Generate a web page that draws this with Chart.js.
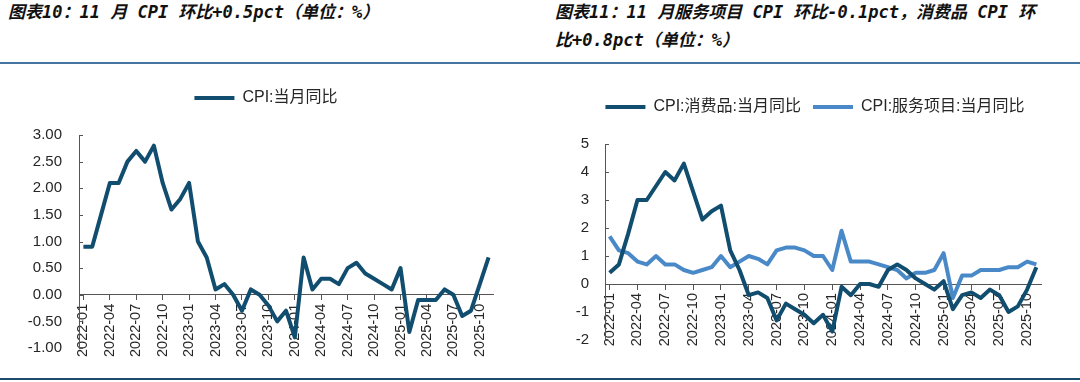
<!DOCTYPE html>
<html>
<head>
<meta charset="utf-8">
<script src="https://cdn.jsdelivr.net/npm/chart.js@4.4.1/dist/chart.umd.min.js"></script>
<style>
  html, body { margin:0; padding:0; background:#fff; }
  #wrap { position:relative; width:1080px; height:382px; overflow:hidden; background:#fff; }
  .ttl { position:absolute; font-family:"DejaVu Sans Mono","Noto Sans CJK SC",monospace; font-weight:bold; font-style:italic; font-size:17px; color:#111; line-height:28px; white-space:nowrap; }
  #t1 { left:8px; top:-2px; }
  #t2 { left:555px; top:-2px; }
  .rule1 { position:absolute; left:0; top:62px; width:1080px; height:2px; background:#4474a0; }
  .rule2 { position:absolute; left:0; top:378px; width:1080px; height:2px; background:#1c4a6c; }
  canvas { position:absolute; }
  #c1 { left:0; top:64px; }
  #c2 { left:550px; top:64px; }
</style>
</head>
<body>
<div id="wrap">
  <div class="ttl" id="t1">图表10：11 月 CPI 环比+0.5pct（单位：%）</div>
  <div class="ttl" id="t2">图表11：11 月服务项目 CPI 环比-0.1pct，消费品 CPI 环<br>比+0.8pct（单位：%）</div>
  <div class="rule1"></div>
  <canvas id="c1" width="532" height="312"></canvas>
  <canvas id="c2" width="530" height="312"></canvas>
  <div class="rule2"></div>
</div>
<script>
// ---- data ----
const months = ["2022-01","2022-02","2022-03","2022-04","2022-05","2022-06","2022-07","2022-08","2022-09","2022-10","2022-11","2022-12",
"2023-01","2023-02","2023-03","2023-04","2023-05","2023-06","2023-07","2023-08","2023-09","2023-10","2023-11","2023-12",
"2024-01","2024-02","2024-03","2024-04","2024-05","2024-06","2024-07","2024-08","2024-09","2024-10","2024-11","2024-12",
"2025-01","2025-02","2025-03","2025-04","2025-05","2025-06","2025-07","2025-08","2025-09","2025-10","2025-11"];

const cpiYoY = [0.9,0.9,1.5,2.1,2.1,2.5,2.7,2.5,2.8,2.1,1.6,1.8,
2.1,1.0,0.7,0.1,0.2,0.0,-0.3,0.1,0.0,-0.2,-0.5,-0.3,
-0.8,0.7,0.1,0.3,0.3,0.2,0.5,0.6,0.4,0.3,0.2,0.1,
0.5,-0.7,-0.1,-0.1,-0.1,0.1,0.0,-0.4,-0.3,0.2,0.7];

const goodsYoY = [0.4,0.7,1.8,3.0,3.0,3.5,4.0,3.7,4.3,3.3,2.3,2.6,
2.8,1.2,0.5,-0.4,-0.3,-0.5,-1.3,-0.7,-0.9,-1.1,-1.4,-1.1,
-1.7,-0.1,-0.4,0.0,0.0,-0.1,0.5,0.7,0.5,0.2,0.0,-0.2,
0.1,-0.9,-0.4,-0.3,-0.5,-0.2,-0.4,-1.0,-0.8,-0.2,0.6];

const servicesYoY = [1.7,1.2,1.1,0.8,0.7,1.0,0.7,0.7,0.5,0.4,0.5,0.6,
1.0,0.6,0.8,1.0,0.9,0.7,1.2,1.3,1.3,1.2,1.0,1.0,
0.5,1.9,0.8,0.8,0.8,0.7,0.6,0.5,0.2,0.4,0.4,0.5,
1.1,-0.5,0.3,0.3,0.5,0.5,0.5,0.6,0.6,0.8,0.7];

const leftSeriesName = "CPI:当月同比";
const goodsName = "CPI:消费品:当月同比";
const servicesName = "CPI:服务项目:当月同比";

// ---- styling ----
Chart.defaults.font.family = '"Liberation Sans","Noto Sans CJK SC",Arial,sans-serif';
Chart.defaults.color = '#262626';
const DARK = '#114d6e';
const LIGHT = '#4a89c8';
const AXIS = '#555555';

const innerTicks = {
  id: 'innerTicks',
  afterDraw(chart) {
    const s = chart.scales.y, ctx = chart.ctx;
    ctx.save();
    ctx.strokeStyle = AXIS; ctx.lineWidth = 1;
    s.ticks.forEach((t, i) => {
      const y = Math.round(s.getPixelForTick(i)) + 0.5;
      ctx.beginPath(); ctx.moveTo(s.right, y); ctx.lineTo(s.right + 4, y); ctx.stroke();
    });
    ctx.restore();
  }
};

function makeOptions(cfg) {
  return {
    responsive: false,
    animation: false,
    layout: { padding: { top: cfg.padTop, bottom: cfg.padBottom, left: 0, right: 0 } },
    elements: { point: { radius: 0, hoverRadius: 0, borderWidth: 4 }, line: { tension: 0, borderWidth: 4, borderJoinStyle: 'round', borderCapStyle: 'butt' } },
    plugins: {
      tooltip: { enabled: false },
      legend: {
        display: true, position: 'top', align: 'center',
        labels: { usePointStyle: true, pointStyle: 'line', pointStyleWidth: 40, padding: cfg.legendPad,
                  font: { size: 16 }, color: '#262626' }
      },
      title: { display: true, text: '', weight: 0, font: { size: 10 }, padding: { top: cfg.spacer, bottom: 0 } }
    },
    scales: {
      x: {
        type: 'category', offset: true,
        position: { y: 0 },
        grid: { display: true, drawOnChartArea: false, drawTicks: true, tickLength: 5, color: AXIS },
        border: { display: true, color: AXIS, width: 1 },
        ticks: {
          autoSkip: false, maxRotation: 90, minRotation: 90, padding: 4,
          font: { size: 14.5 }, color: '#262626',
          callback: function(v, i) { return i % 3 === 0 ? this.getLabelForValue(v) : null; }
        }
      },
      y: {
        type: 'linear', position: 'left',
        min: cfg.min, max: cfg.max,
        grid: { display: true, drawOnChartArea: false, drawTicks: false },
        border: { display: true, color: AXIS, width: 1 },
        ticks: { stepSize: cfg.step, padding: cfg.yPad, font: { size: 15 }, color: '#262626',
                 callback: v => cfg.dec ? v.toFixed(cfg.dec) : String(v) },
        afterFit: s => { s.width = cfg.yWidth; }
      },
      y2: {
        type: 'linear', position: 'right', display: true,
        grid: { display: false, drawTicks: false }, border: { display: false },
        ticks: { display: false },
        afterFit: s => { s.width = cfg.rWidth; }
      }
    }
  };
}

new Chart(document.getElementById('c1'), {
  type: 'line',
  data: {
    labels: months,
    datasets: [{ label: leftSeriesName, data: cpiYoY, borderColor: DARK, backgroundColor: DARK, pointBorderColor: DARK, fill: false }]
  },
  options: makeOptions({ padTop: 16, padBottom: 28, legendPad: 10, spacer: 7,
    min: -1, max: 3, step: 0.5, dec: 2, yPad: 17, yWidth: 79, rWidth: 39 }),
  plugins: [innerTicks]
});

new Chart(document.getElementById('c2'), {
  type: 'line',
  data: {
    labels: months,
    datasets: [
      { label: goodsName, data: goodsYoY, borderColor: DARK, backgroundColor: DARK, pointBorderColor: DARK, fill: false },
      { label: servicesName, data: servicesYoY, borderColor: LIGHT, backgroundColor: LIGHT, pointBorderColor: LIGHT, fill: false }
    ]
  },
  options: makeOptions({ padTop: 23, padBottom: 36, legendPad: 12, spacer: 7,
    min: -2, max: 5, step: 1, dec: 0, yPad: 16, yWidth: 55, rWidth: 39 }),
  plugins: [innerTicks]
});
</script>
</body>
</html>
